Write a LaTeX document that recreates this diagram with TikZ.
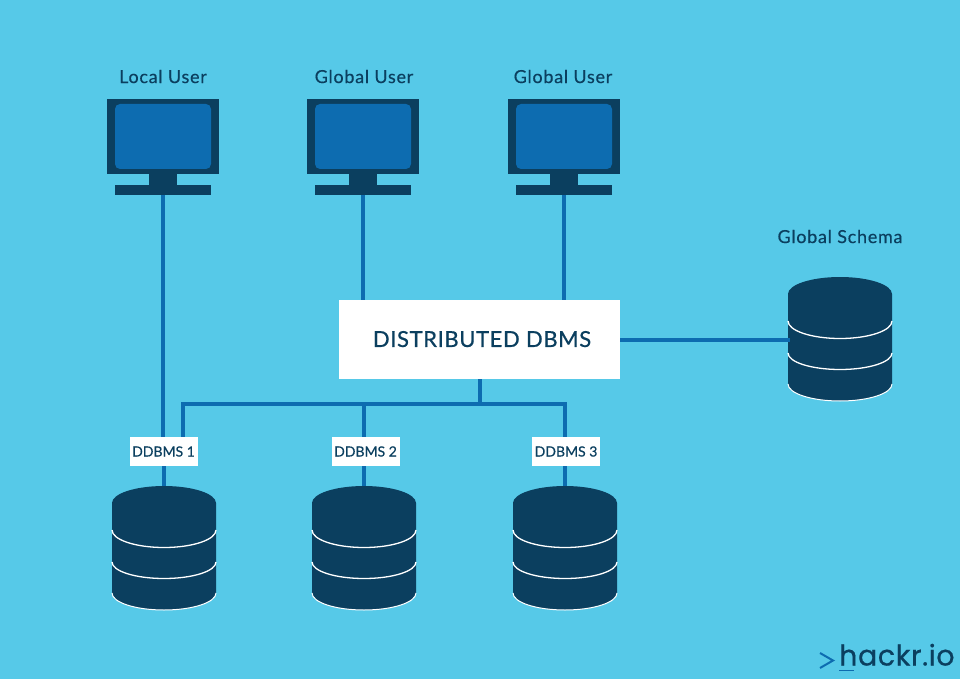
\documentclass[tikz,border=0pt]{standalone}
\usepackage{fontspec}
\setmainfont{Lato}[FakeBold=0.35]
\newfontfamily\logofont{Poppins}[FakeBold=0.6,LetterSpace=2]
\definecolor{bgblue}{HTML}{56C9E8}
\definecolor{navy}{HTML}{0B3F5F}
\definecolor{linkblue}{HTML}{0D6CB0}
\tikzset{
  x=1pt,y=-1pt,
  link/.style={draw=linkblue,line width=4pt,line join=miter},
  solid box/.style={fill=navy,draw=none,inner sep=0pt,outer sep=0pt},
  screen/.style={fill=linkblue,draw=none,rounded corners=5pt,inner sep=0pt,minimum width=96pt,minimum height=65pt},
  caption/.style={text=navy,font=\fontsize{18}{20}\selectfont\addfontfeature{LetterSpace=4},inner sep=0pt},
  dbtag/.style={fill=white,text=navy,font=\fontsize{14}{16}\selectfont,inner sep=0pt,minimum width=68pt,minimum height=29pt},
  mainbox/.style={fill=white,text=navy,font=\fontsize{22}{24}\selectfont\addfontfeature{LetterSpace=2.8,FakeBold=0.7},inner sep=0pt,minimum width=281pt,minimum height=79pt,outer sep=0pt},
}
% #1 name, #2 x of centre
\newcommand{\monitor}[2]{%
  \node[solid box,minimum width=112pt,minimum height=75pt] (#1body) at (#2,136.5) {};
  \node[screen] at (#2,136.5) {};
  \node[solid box,minimum width=28pt,minimum height=11pt] (#1neck) at (#2,179.5) {};
  \node[solid box,minimum width=96pt,minimum height=10pt] (#1) at (#2,190) {};
}
% #1 name, #2 x of centre, #3 y of top
\newcommand{\database}[3]{%
  \begin{scope}[shift={(#2,#3)}]
    \fill[navy] (-52,17) arc[start angle=180,end angle=360,x radius=52,y radius=17] -- (52,107) arc[start angle=0,end angle=180,x radius=52,y radius=17] -- cycle;
    \draw[white,line width=1.3pt] (-52,44) arc[start angle=180,end angle=0,x radius=52,y radius=17.5];
    \draw[white,line width=1.3pt] (-52,76) arc[start angle=180,end angle=0,x radius=52,y radius=16.5];
    \draw[white,line width=1pt] (-52,107) arc[start angle=180,end angle=0,x radius=52,y radius=17];
    \coordinate (#1) at (0,0);
    \coordinate (#1side) at (-50,62);
  \end{scope}
}
\begin{document}
\begin{tikzpicture}
  \fill[bgblue] (0,0) rectangle (960,679);
  \useasboundingbox (0,0) rectangle (960,679);

  \monitor{monA}{163}
  \monitor{monB}{363}
  \monitor{monC}{564}

  \node[caption] (capA) at (163,76.5) {Local User};
  \node[caption] (capB) at (364,76.5) {Global User};
  \node[caption] (capC) at (563,76.5) {Global User};
  \node[caption] (capS) at (840,236.5) {Global Schema};

  \node[mainbox] (dist) at (479.5,339.5) {\hspace{5pt}\raisebox{1pt}{DISTRIBUTED DBMS}};
  \node[dbtag] (tagA) at (163.5,451.5) {DDBMS 1};
  \node[dbtag] (tagB) at (365.5,451.5) {DDBMS 2};
  \node[dbtag] (tagC) at (566,451.5) {DDBMS 3};

  \coordinate (busL) at (183,404);
  \coordinate (busM) at (479.5,404);
  \coordinate (busB) at (364,404);
  \coordinate (busR) at (565,404);

  % user lines
  \draw[link] (monA.south) -- (tagA.north -| monA.south);
  \draw[link] (monB.south) -- (monB.south |- dist.north);
  \draw[link] (monC.south) -- (monC.south |- dist.north);
  % bus
  \draw[link] (dist.south) -- (busM);
  \draw[link] (busL |- tagA.north) -- (busL) -- (busR) -- (busR |- tagC.north);
  \draw[link] (busB) -- (busB |- tagB.north);

  \database{dbA}{164}{486}
  \database{dbB}{364}{486}
  \database{dbC}{565}{486}
  \database{dbS}{840}{277}

  \draw[link] (dbA |- tagA.south) -- (dbA);
  \draw[link] (dbB |- tagB.south) -- (dbB);
  \draw[link] (dbC |- tagC.south) -- (dbC);
  % schema
  \draw[link] (dist.east) -- (dbSside |- dist.east);

  % logo
  \node[anchor=base west,inner sep=0pt,text=navy,font=\logofont\fontsize{28.5}{32}\selectfont] (logo) at (839,665.5) {hackr.io};
  \coordinate (chevA) at (820,653);
  \coordinate (chevB) at (833,660.5);
  \coordinate (chevC) at (820,668);
  \draw[linkblue,line width=2pt] (chevA) -- (chevB) -- (chevC);
  \draw[linkblue,line width=1.8pt] (logo.base west) ++(0,5) -- ++(15,0);
\end{tikzpicture}
\end{document}
